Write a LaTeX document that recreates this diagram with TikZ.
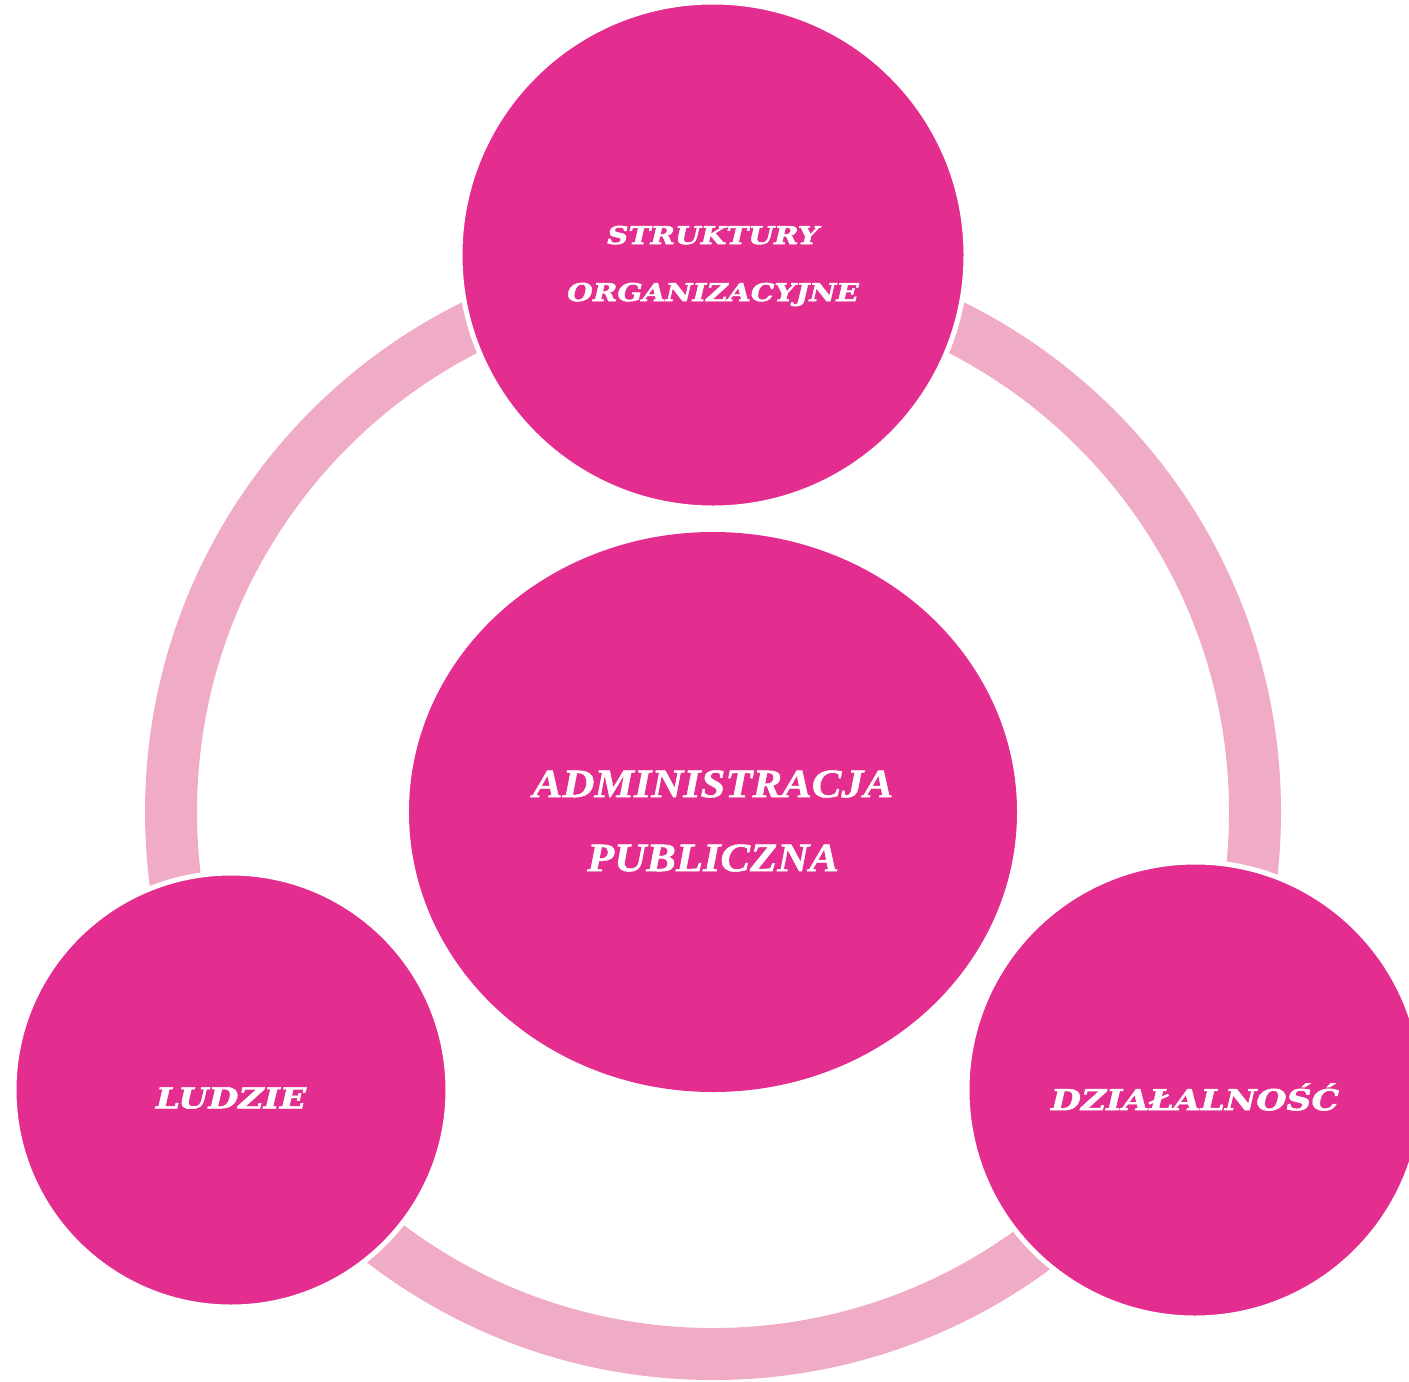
\documentclass[tikz,border=0pt]{standalone}
\usepackage{fontspec}
\setmainfont[FakeStretch=1.1, BoldItalicFeatures={FakeBold=1.2}]{Liberation Serif}
\newfontfamily\slabfont[FakeStretch=1.2, BoldItalicFeatures={FakeBold=2}]{DejaVu Serif}
\usetikzlibrary{shapes.geometric}
\definecolor{magenta}{RGB}{227,45,143}
\definecolor{ringpink}{RGB}{240,172,198}
\tikzset{
  blob/.style={circle, fill=magenta, draw=white, line width=2.5pt, inner sep=0pt},
  txt/.style={text=white, align=center, inner sep=0pt},
  small/.style={txt, font=\slabfont\bfseries\itshape\fontsize{12.3}{28.5}\selectfont},
  smallbig/.style={txt, font=\slabfont\bfseries\itshape\fontsize{14.4}{28.5}\selectfont}
}

\begin{document}
\begin{tikzpicture}[x=0.5pt, y=-0.5pt]
\useasboundingbox (0,0) rectangle (1409,1382);
\node[ellipse, fill=magenta, inner sep=0pt, minimum width=304pt, minimum height=280pt,
  label={[txt, font=\bfseries\itshape\fontsize{20.2}{37}\selectfont, yshift=-4.5pt]center:{ADMINISTRACJA\\PUBLICZNA}}] (adm) at (713,812) {};
\draw[ringpink, line width=26pt] (adm.center) circle [radius=542];
\node[blob, minimum size=253pt, label={[small, yshift=-5.5pt]center:{STRUKTURY\\ORGANIZACYJNE}}] (str) at (713,255) {};
\node[blob, minimum size=217pt, label={[smallbig, yshift=-4pt]center:{LUDZIE}}] (lud) at (231,1090) {};
\node[blob, minimum size=228pt, label={[smallbig, yshift=-3.5pt]center:{DZIAŁALNOŚĆ}}] (dzi) at (1195,1090) {};
\end{tikzpicture}
\end{document}
